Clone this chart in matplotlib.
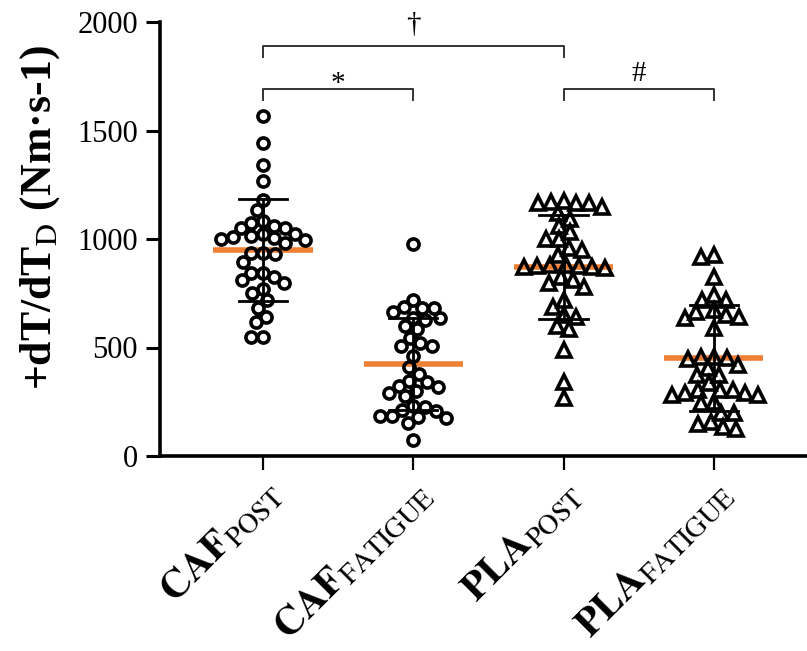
import numpy as np
import matplotlib
matplotlib.use('Agg')
import matplotlib.pyplot as plt
import matplotlib.transforms as mtransforms

plt.rcParams['font.family'] = ['Liberation Serif', 'DejaVu Serif']
plt.rcParams['mathtext.fontset'] = 'stix'

# groups and conditions (x axis)
groups = ['CAF', 'CAF', 'PLA', 'PLA']
conditions = ['POST', 'FATIGUE', 'POST', 'FATIGUE']

# individual values (Nm/s)
caf_post = [1567, 1441, 1341, 1269, 1180, 1134,
            1074, 1051, 1023, 1023, 1051, 1060, 1084,
            1005, 995, 1011, 983, 1000, 1015,
            935, 931, 935, 894,
            825, 845, 799, 843, 811,
            770, 719, 751, 682, 619, 642, 548, 548]
caf_fatigue = [977, 719,
               687, 682, 636, 627, 599, 636, 664, 682,
               585, 544, 507, 521, 507, 461, 410, 378,
               345, 323, 300, 276, 290, 318, 341,
               230, 212, 184, 180, 175, 152, 184, 207, 226, 74]
pla_post = [1170, 1168, 1166, 1147, 1166, 1175,
            1092, 1120, 1060, 1032, 1000, 1000,
            949, 926, 958,
            875, 870, 878, 872, 880, 868, 876,
            825, 797, 811, 779, 719, 687,
            641, 585, 599, 650, 488, 341, 267]
pla_fatigue = [926, 918, 826, 719, 719, 742,
               665, 635, 640, 650, 673, 590,
               452, 420, 458, 447, 456, 405,
               373, 373, 336,
               304, 290, 281, 304, 281, 290, 304,
               249, 244,
               198, 147, 124, 134, 157, 198]
series = [caf_post, caf_fatigue, pla_post, pla_fatigue]

# mean and SD
group_means = [949, 424, 872, 452]
group_sds = [235, 213, 240, 245]

# significance brackets
bracket_pairs = [(0, 2), (0, 1), (2, 3)]
bracket_heights = [1890, 1690, 1690]
bracket_marks = ['†', '*', '#']

markers = ['o', 'o', '^', '^']


def swarm_x(ax, xpos, values, diam):
    # simple beeswarm in pixel space
    pix = ax.transData.transform(np.column_stack([np.full(len(values), xpos), values]))
    ys = pix[:, 1]
    p0 = ax.transData.transform([[0, 0], [1, 0]])
    px_unit = p0[1, 0] - p0[0, 0]
    offs = np.zeros(len(values))
    placed = []
    for i in np.argsort(values)[::-1]:
        y = ys[i]
        near = [(qx, qy) for qx, qy in placed if abs(qy - y) < diam]
        cands = [0.0]
        for qx, qy in near:
            dx = np.sqrt(diam ** 2 - (qy - y) ** 2)
            cands += [qx - dx, qx + dx]
        cands.sort(key=abs)
        for c in cands:
            if all((c - qx) ** 2 + (y - qy) ** 2 >= diam ** 2 - 1e-6 for qx, qy in near):
                break
        placed.append((c, y))
        offs[i] = c
    return xpos + offs / px_unit


fig = plt.figure(figsize=(8.07, 6.51), dpi=100)
ax = fig.add_axes([160 / 807, 195 / 651, 647 / 807, 434 / 651])
ax.set_xlim(-0.685, 3.62)
ax.set_ylim(0, 2000)

for i, vals in enumerate(series):
    # mean line
    ax.plot([i - 0.33, i + 0.33], [group_means[i]] * 2, color='#EE7F33', lw=4,
            solid_capstyle='butt', zorder=2)
    # SD whiskers
    lo, hi = group_means[i] - group_sds[i], group_means[i] + group_sds[i]
    ax.plot([i, i], [lo, hi], color='black', lw=2, zorder=3)
    ax.plot([i - 0.16, i + 0.16], [lo, lo], color='black', lw=2, zorder=3)
    ax.plot([i - 0.16, i + 0.16], [hi, hi], color='black', lw=2, zorder=3)
    diam = 11.8 if markers[i] == 'o' else 13
    xs = swarm_x(ax, i, np.array(vals, float), diam)
    ms = 8 if markers[i] == 'o' else 9.8
    ax.plot(xs, vals, linestyle='none', marker=markers[i], ms=ms, mfc='none',
            mec='black', mew=2.6, zorder=4)

# brackets, mark lifted a few pixels above the bar
lift = {'†': 14, '*': -2, '#': 8}
for (a, b), h, mark in zip(bracket_pairs, bracket_heights, bracket_marks):
    drop = 50
    ax.plot([a, a, b, b], [h - drop, h, h, h - drop], color='#333333', lw=1.4,
            clip_on=False)
    ax.annotate(mark, ((a + b) / 2, h), xytext=(0, lift[mark] * 0.72),
                textcoords='offset points', ha='center', va='baseline',
                fontsize=21, annotation_clip=False)

labels = [r'$\mathbf{%s}_{\mathrm{%s}}$' % (g, c) for g, c in zip(groups, conditions)]
ax.set_xticks(range(4))
ax.set_xticklabels(labels, rotation=45, ha='right', rotation_mode='anchor', fontsize=29)
offset = mtransforms.ScaledTranslation(30 / 100, -5 / 100, fig.dpi_scale_trans)
for lab in ax.get_xticklabels():
    lab.set_transform(lab.get_transform() + offset)

ax.set_yticks([0, 500, 1000, 1500, 2000])
ax.tick_params(axis='y', labelsize=22, length=10, width=2.2, pad=6)
ax.tick_params(axis='x', length=10, width=1.6, pad=4)
for side in ['top', 'right']:
    ax.spines[side].set_visible(False)
ax.spines['left'].set_linewidth(2.6)
ax.spines['bottom'].set_linewidth(2.6)

fig.text(40 / 807, 1 - 217 / 651, r'+dT/dT$_{\mathrm{D}}$ (Nm·s-1)', rotation=90,
         ha='center', va='center', fontsize=31.5, fontweight='bold')

fig.savefig('out.png', dpi=100)
